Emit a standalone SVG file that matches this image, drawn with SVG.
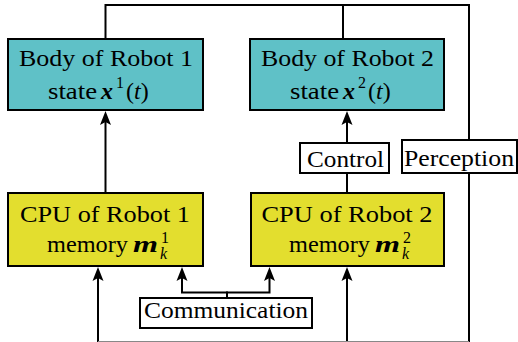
<svg xmlns="http://www.w3.org/2000/svg" width="518" height="342" viewBox="0 0 518 342" font-family="Liberation Serif, Times New Roman, Times, DejaVu Serif, serif">
<style>
text{font-size:24px;fill:#000}
.b{font-weight:bold;font-style:italic}
.i{font-style:italic}
.s{font-size:16px}
.body{fill:#5fc1c7;stroke:#000;stroke-width:2}
.cpu{fill:#e3de2e;stroke:#000;stroke-width:2}
.lab{fill:#fff;stroke:#000;stroke-width:2}
.c{fill:none;stroke:#000;stroke-width:2}
</style>
<defs>
<marker id="ar" markerUnits="userSpaceOnUse" markerWidth="20" markerHeight="20" refX="0" refY="0" orient="auto" overflow="visible">
<path d="M-10,-5.5 L4,0 L-10,5.5 L-7,0 Z" fill="#000"/>
</marker>
</defs>
<g id="connectors">
<polyline class="c" points="105.5,39 105.5,5 469,5 469,140"/>
<line class="c" x1="343" y1="5" x2="343" y2="39"/>
<line class="c" x1="105.5" y1="193" x2="105.5" y2="115" marker-end="url(#ar)"/>
<line class="c" x1="347" y1="143" x2="347" y2="115" marker-end="url(#ar)"/>
<line class="c" x1="347" y1="173" x2="347" y2="193"/>
<line class="c" x1="98" y1="342" x2="98" y2="271" marker-end="url(#ar)"/>
<line class="c" x1="347" y1="342" x2="347" y2="271" marker-end="url(#ar)"/>
<line class="c" x1="469" y1="173" x2="469" y2="342"/>
<polyline class="c" points="227,292.5 182,292.5 182,271" marker-end="url(#ar)"/>
<polyline class="c" points="227,292.5 269.5,292.5 269.5,271" marker-end="url(#ar)"/>
<line class="c" x1="227" y1="291.5" x2="227" y2="298"/>
<line x1="98" y1="341.5" x2="469" y2="341.5" stroke="#888" stroke-width="1"/>
</g>
<g id="body1">
<rect class="body" x="8" y="39" width="195" height="71"/>
<text x="106" y="66" text-anchor="middle" textLength="174" lengthAdjust="spacingAndGlyphs">Body of Robot 1</text>
<text x="48" y="99" textLength="49" lengthAdjust="spacingAndGlyphs">state</text>
<text class="b" x="101" y="99">x</text>
<text class="s" x="116" y="88">1</text>
<text x="126" y="99">(<tspan class="i">t</tspan>)</text>
</g>
<g id="body2">
<rect class="body" x="250" y="39" width="194" height="71"/>
<text x="347.5" y="66" text-anchor="middle" textLength="173" lengthAdjust="spacingAndGlyphs">Body of Robot 2</text>
<text x="290" y="99" textLength="49" lengthAdjust="spacingAndGlyphs">state</text>
<text class="b" x="343" y="99">x</text>
<text class="s" x="358" y="88">2</text>
<text x="368" y="99">(<tspan class="i">t</tspan>)</text>
</g>
<g id="cpu1">
<rect class="cpu" x="8" y="193" width="195" height="73"/>
<text x="105" y="222" text-anchor="middle" textLength="170" lengthAdjust="spacingAndGlyphs">CPU of Robot 1</text>
<text x="47" y="252" textLength="81" lengthAdjust="spacingAndGlyphs">memory</text>
<text class="b" x="133" y="252" textLength="25" lengthAdjust="spacingAndGlyphs">m</text>
<text class="s" x="161" y="243">1</text>
<text class="s i" x="160" y="259">k</text>
</g>
<g id="cpu2">
<rect class="cpu" x="251" y="193" width="193" height="73"/>
<text x="347" y="222" text-anchor="middle" textLength="171" lengthAdjust="spacingAndGlyphs">CPU of Robot 2</text>
<text x="289" y="252" textLength="81" lengthAdjust="spacingAndGlyphs">memory</text>
<text class="b" x="375" y="252" textLength="25" lengthAdjust="spacingAndGlyphs">m</text>
<text class="s" x="403" y="243">2</text>
<text class="s i" x="402" y="259">k</text>
</g>
<g id="control">
<rect class="lab" x="300" y="143" width="89" height="30"/>
<text x="345.5" y="167" text-anchor="middle" textLength="77" lengthAdjust="spacingAndGlyphs">Control</text>
</g>
<g id="perception">
<rect class="lab" x="402" y="140" width="115" height="33"/>
<text x="459" y="166" text-anchor="middle" textLength="110" lengthAdjust="spacingAndGlyphs">Perception</text>
</g>
<g id="communication">
<rect class="lab" x="140" y="298" width="172" height="30"/>
<text x="226" y="318" text-anchor="middle" textLength="164" lengthAdjust="spacingAndGlyphs">Communication</text>
</g>
</svg>
